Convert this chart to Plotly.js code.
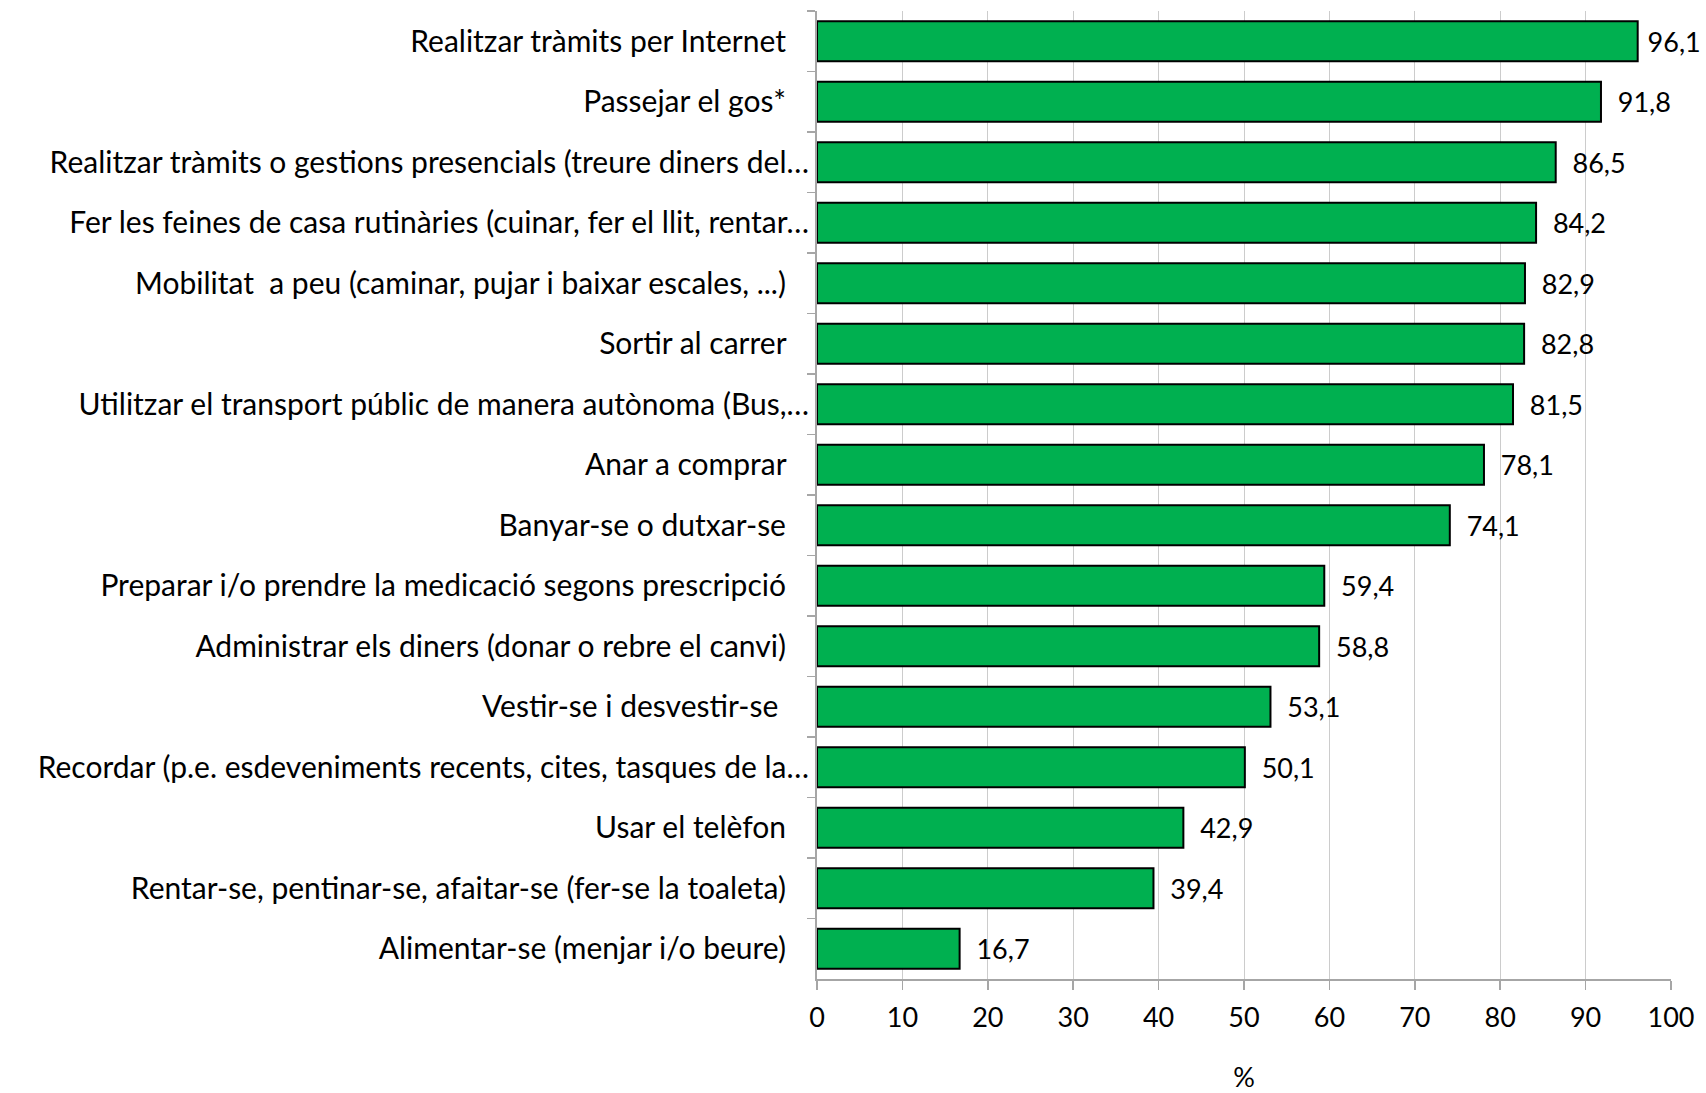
<!DOCTYPE html>
<html>
<head>
<meta charset="utf-8">
<script src="https://cdn.plot.ly/plotly-3.0.1.min.js"></script>
<style>html,body{margin:0;padding:0;background:#fff;}#chart{width:1706px;height:1093px;}</style>
</head>
<body>
<div id="chart"></div>
<script>
const categories = [
  "Realitzar tràmits per Internet",
  "Passejar el gos*",
  "Realitzar tràmits o gestions presencials (treure diners del…",
  "Fer les feines de casa rutinàries (cuinar, fer el llit, rentar…",
  "Mobilitat  a peu (caminar, pujar i baixar escales, ...)",
  "Sortir al carrer",
  "Utilitzar el transport públic de manera autònoma (Bus,…",
  "Anar a comprar",
  "Banyar-se o dutxar-se",
  "Preparar i/o prendre la medicació segons prescripció",
  "Administrar els diners (donar o rebre el canvi)",
  "Vestir-se i desvestir-se ",
  "Recordar (p.e. esdeveniments recents, cites, tasques de la…",
  "Usar el telèfon",
  "Rentar-se, pentinar-se, afaitar-se (fer-se la toaleta)",
  "Alimentar-se (menjar i/o beure)"
];
const values = [96.1, 91.8, 86.5, 84.2, 82.9, 82.8, 81.5, 78.1, 74.1, 59.4, 58.8, 53.1, 50.1, 42.9, 39.4, 16.7];
const xTicks = [0, 10, 20, 30, 40, 50, 60, 70, 80, 90, 100];
const xTitle = "%";

// display labels: non-truncated labels keep trailing padding as in the original
const NB = "\u00a0";
const display = categories.map(c => {
  let s = c.replace(/  /g, " " + NB);
  if (s.endsWith(" ")) s = s.trimEnd() + NB.repeat(4);
  else if (!s.endsWith("…")) s = s + NB.repeat(3);
  return s;
});

const FONT = "Lato, 'Open Sans', sans-serif";

const trace = {
  type: "bar",
  orientation: "h",
  x: values,
  y: display,
  marker: {color: "#00B050", line: {color: "#000000", width: 2}},
  // labels near the right edge get less padding so they stay inside the page
  text: values.map(v => (v > 95 ? NB : NB + NB) + v.toFixed(1).replace(".", ",")),
  texttemplate: "%{text}",
  textposition: "outside",
  cliponaxis: false,
  textfont: {family: FONT, size: 27, color: "#000"},
  hoverinfo: "skip"
};

const layout = {
  width: 1706,
  height: 1093,
  margin: {l: 817, r: 35, t: 11, b: 114},
  paper_bgcolor: "#fff",
  plot_bgcolor: "#fff",
  showlegend: false,
  bargap: 0.34,
  font: {family: FONT, size: 27, color: "#000"},
  xaxis: {
    range: [0, 100],
    tickvals: xTicks,
    ticktext: xTicks.map(String),
    showgrid: true,
    gridcolor: "#cccccc",
    gridwidth: 1,
    zeroline: false,
    showline: true,
    linecolor: "#a6a6a6",
    linewidth: 2,
    ticks: "outside",
    ticklen: 9,
    tickcolor: "#a6a6a6",
    tickwidth: 1.5,
    ticklabelstandoff: 5,
    tickfont: {family: FONT, size: 27, color: "#000"},
    title: {text: xTitle, font: {family: FONT, size: 27, color: "#000"}, standoff: 46},
    fixedrange: true
  },
  yaxis: {
    type: "category",
    autorange: "reversed",
    showgrid: false,
    showline: true,
    linecolor: "#a6a6a6",
    linewidth: 2,
    ticks: "outside",
    tickson: "boundaries",
    ticklen: 8,
    tickcolor: "#a6a6a6",
    tickwidth: 1.5,
    ticklabelstandoff: 0,
    tickfont: {family: FONT, size: 30, color: "#000"},
    fixedrange: true
  }
};

Plotly.newPlot("chart", [trace], layout, {displayModeBar: false, staticPlot: true});
</script>
</body>
</html>
